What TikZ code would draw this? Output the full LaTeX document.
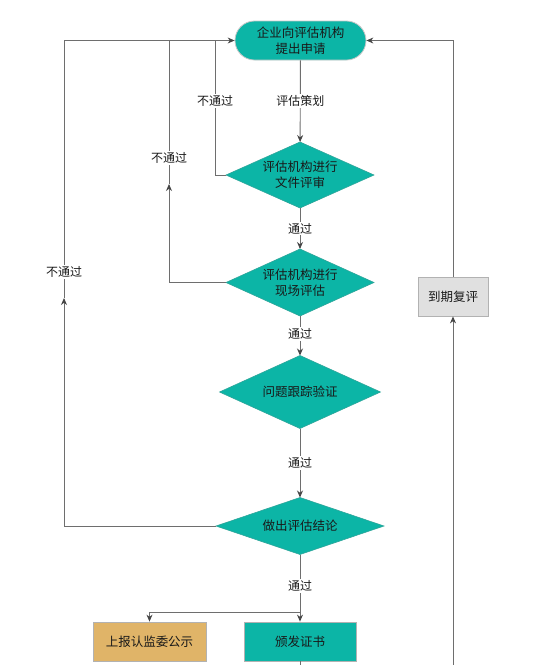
\documentclass[tikz,border=0pt]{standalone}
\usepackage{fontspec}
\setmainfont{Noto Sans CJK SC}
\usetikzlibrary{shapes.geometric,arrows.meta}
\definecolor{teal1}{RGB}{12,181,166}
\definecolor{tan1}{RGB}{224,180,104}
\definecolor{gbox}{RGB}{224,224,224}
\definecolor{lc}{RGB}{110,110,110}
\definecolor{ac}{RGB}{70,70,70}
\tikzset{
  txt/.style={font=\fontsize{12.5}{16}\selectfont, text=black!90, align=center},
  term/.style={txt, rectangle, rounded corners=19.5pt, minimum width=131pt, minimum height=39pt, fill=teal1, draw=gray!45, line width=0.8pt},
  dec/.style={txt, diamond, inner sep=0pt, outer sep=0pt, fill=teal1, draw=teal1!70!gray, line width=0.6pt},
  box/.style={txt, rectangle, minimum height=39pt, draw=gray!60, line width=0.8pt},
  line/.style={draw=lc, line width=0.9pt},
  arr/.style={line, -{Stealth[length=7pt,width=6pt,color=ac]}},
  lbl/.style={font=\fontsize{12}{14}\selectfont, text=black!90, fill=white, inner sep=1.5pt}
}
\begin{document}
\begin{tikzpicture}[x=1pt,y=-1pt]
\useasboundingbox (0,0) rectangle (556,665);
% nodes
\node[term] (start) at (300.5,40.5) {企业向评估机构\\提出申请};
\node[dec, aspect=2.24, minimum width=148pt, minimum height=66pt] (d1) at (300,175) {评估机构进行\\文件评审};
\node[dec, aspect=2.21, minimum width=148pt, minimum height=67pt] (d2) at (300,282.5) {评估机构进行\\现场评估};
\node[dec, aspect=2.2, minimum width=161pt, minimum height=73pt] (d3) at (300,392) {问题跟踪验证};
\node[dec, aspect=2.95, minimum width=168pt, minimum height=57pt] (d4) at (300,526) {做出评估结论};
\node[box, fill=tan1, minimum width=113pt] (b1) at (149.5,641.5) {上报认监委公示};
\node[box, fill=teal1, minimum width=112pt] (b2) at (300,641.5) {颁发证书};
\node[box, fill=gbox, minimum width=70pt] (rv) at (453,296.5) {到期复评};
% helper coordinates
\coordinate (j1) at (215,40.5);
\coordinate (j2) at (169,40.5);
\coordinate (j3) at (64,40.5);
\coordinate (m2) at (169,184);
\coordinate (m3) at (64,298);
\coordinate (split) at (300,612);
\coordinate (bot1) at (300,665);
\coordinate (bot2) at (453,665);
% main flow
\draw[arr] (start) -- node[lbl]{评估策划} (d1);
\draw[arr] (d1) -- node[lbl]{通过} (d2);
\draw[arr] (d2) -- node[lbl, pos=0.45]{通过} (d3);
\draw[arr] (d3) -- node[lbl]{通过} (d4);
\draw[arr] (d4.south) -- node[lbl, pos=0.47]{通过} (b2.north);
\draw[arr] (split) -| (b1.north);
\draw[line] (b2.south) -- (bot1);
% rejection loops
\draw[arr] (d1.west) -| node[lbl, pos=0.775]{不通过} (j1) -- (start.west);
\draw[arr] (d2.west) -| (m2);
\draw[line] (m2) -- node[lbl, pos=0.18]{不通过} (j2);
\draw[arr] (d4.west) -| (m3);
\draw[line] (m3) -- node[lbl, pos=0.1]{不通过} (j3) -- (j1);
% review loop
\draw[arr] (bot2) -- (rv.south);
\draw[arr] (rv.north) |- (start.east);
\end{tikzpicture}
\end{document}
